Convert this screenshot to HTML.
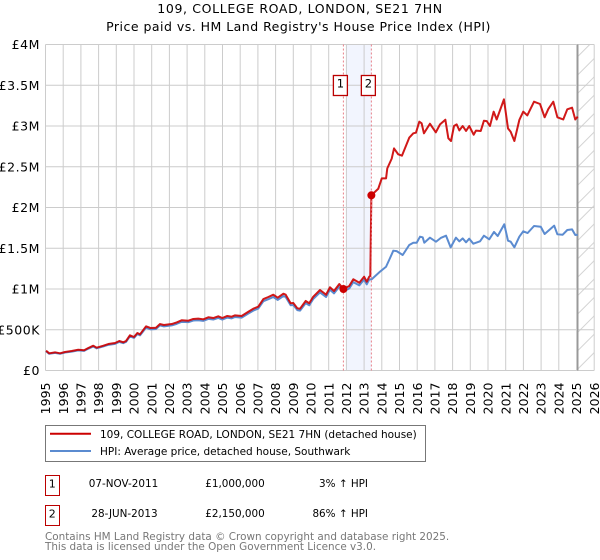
<!DOCTYPE html>
<html>
<head>
<meta charset="utf-8">
<style>
html,body{margin:0;padding:0;background:#fff}
svg{display:block}
text{font-family:"DejaVu Sans",sans-serif;fill:#000}
</style>
</head>
<body>
<svg id="chart" xmlns="http://www.w3.org/2000/svg" width="600" height="560" viewBox="0 0 600 560">
  <defs>
    <pattern id="hatch" patternUnits="userSpaceOnUse" width="13" height="13" patternTransform="rotate(45)">
      <line x1="6.5" y1="0" x2="6.5" y2="13" stroke="#d4d4d4" stroke-width="1"/>
    </pattern>
  </defs>
  <text x="300" y="13" font-size="12.5" letter-spacing="0.64" text-anchor="middle">109, COLLEGE ROAD, LONDON, SE21 7HN</text>
  <text x="298.5" y="31" font-size="12.5" letter-spacing="0.48" text-anchor="middle">Price paid vs. HM Land Registry's House Price Index (HPI)</text>
  <g id="bands"></g>
  <g id="grid"></g>
  <g id="lines"></g>
  <g id="annotations"></g>
  <g id="ticks"></g>

  <g>
    <rect x="45.5" y="425.5" width="380" height="36" fill="#fff" stroke="#777" stroke-width="1"/>
    <line x1="50" x2="91" y1="433.7" y2="433.7" stroke="#cc0000" stroke-width="2"/>
    <text x="100" y="438" font-size="10.5">109, COLLEGE ROAD, LONDON, SE21 7HN (detached house)</text>
    <line x1="50" x2="91" y1="451" y2="451" stroke="#5b8bd0" stroke-width="2"/>
    <text x="100" y="455" font-size="10.5">HPI: Average price, detached house, Southwark</text>
  </g>

  <g>
    <rect x="45.5" y="475.5" width="14" height="20" fill="#fff" stroke="#bb0000" stroke-width="1"/>
    <text x="52.3" y="487.3" font-size="11" text-anchor="middle">1</text>
    <text x="123.5" y="487" font-size="10.4" text-anchor="middle">07-NOV-2011</text>
    <text x="235" y="487" font-size="10.4" text-anchor="middle">£1,000,000</text>
    <text x="368" y="487" font-size="10.4" text-anchor="end">3% ↑ HPI</text>
    <rect x="45.5" y="505.5" width="14" height="20" fill="#fff" stroke="#bb0000" stroke-width="1"/>
    <text x="52.3" y="517.3" font-size="11" text-anchor="middle">2</text>
    <text x="124.5" y="517" font-size="10.4" text-anchor="middle">28-JUN-2013</text>
    <text x="235" y="517" font-size="10.4" text-anchor="middle">£2,150,000</text>
    <text x="368" y="517" font-size="10.4" text-anchor="end">86% ↑ HPI</text>
  </g>

  <text x="45" y="540" font-size="10.4" style="fill:#777">Contains HM Land Registry data © Crown copyright and database right 2025.</text>
  <text x="45" y="550" font-size="10.4" style="fill:#777">This data is licensed under the Open Government Licence v3.0.</text>
</svg>

<script>
var yearTicks = [1995,1996,1997,1998,1999,2000,2001,2002,2003,2004,2005,2006,2007,2008,2009,2010,2011,2012,2013,2014,2015,2016,2017,2018,2019,2020,2021,2022,2023,2024,2025,2026];
var priceTicks = [0,0.5,1,1.5,2,2.5,3,3.5,4];
var priceTickLabels = ['£0','£500K','£1M','£1.5M','£2M','£2.5M','£3M','£3.5M','£4M'];

var propertyDates = [
1995.03,1995.21,1995.54,1995.82,1996.10,1996.48,1996.85,1997.18,1997.42,1997.70,
1997.89,1998.27,1998.55,1998.93,1999.17,1999.40,1999.55,1999.77,2000.00,2000.19,
2000.34,2000.68,2000.94,2001.24,2001.47,2001.69,2002.13,2002.41,2002.69,2003.07,
2003.35,2003.63,2003.92,2004.20,2004.48,2004.76,2004.99,2005.27,2005.52,2005.71,
2006.08,2006.46,2006.74,2007.02,2007.31,2007.59,2007.87,2008.12,2008.44,2008.57,
2008.85,2009.00,2009.23,2009.38,2009.70,2009.90,2010.13,2010.51,2010.85,2011.07,
2011.30,2011.60,2011.83,2012.16,2012.39,2012.73,2013.00,2013.15,2013.29,2013.35,
2013.41,2013.80,2014.00,2014.24,2014.31,2014.56,2014.69,2014.93,2015.14,2015.55,
2015.78,2015.93,2016.12,2016.25,2016.38,2016.72,2017.05,2017.29,2017.59,2017.76,
2017.91,2018.08,2018.23,2018.38,2018.57,2018.76,2018.94,2019.19,2019.32,2019.59,
2019.77,2019.93,2020.11,2020.32,2020.49,2020.90,2021.13,2021.28,2021.49,2021.77,
2021.99,2022.22,2022.60,2022.94,2023.20,2023.41,2023.69,2023.92,2024.25,2024.48,
2024.75,2024.93,2025.07];
var propertyValues = [
.243,.211,.223,.211,.227,.239,.255,.248,.276,.304,
.28,.304,.325,.337,.362,.346,.362,.432,.411,.46,
.444,.542,.521,.525,.57,.558,.57,.59,.616,.611,
.632,.636,.628,.653,.644,.665,.644,.669,.66,.677,
.669,.721,.758,.783,.877,.902,.93,.893,.942,.93,
.825,.828,.763,.758,.853,.825,.906,.988,.93,1.021,
.975,1.061,1.0,1.037,1.119,1.077,1.151,1.09,1.151,1.16,
2.15,2.23,2.358,2.358,2.48,2.6,2.725,2.652,2.636,2.856,
2.91,2.918,3.053,3.033,2.91,3.028,2.922,3.02,3.077,2.849,
2.816,3.0,3.02,2.946,3.0,2.939,3.0,2.893,2.943,2.939,
3.065,3.06,3.0,3.176,3.08,3.327,2.97,2.93,2.816,3.074,
3.176,3.13,3.298,3.27,3.107,3.209,3.298,3.107,3.08,3.205,
3.225,3.08,3.114];

var hpiDates = [
1995.03,1995.21,1995.54,1995.82,1996.10,1996.48,1996.85,1997.18,1997.42,1997.70,
1997.89,1998.27,1998.55,1998.93,1999.17,1999.40,1999.55,1999.77,2000.00,2000.19,
2000.34,2000.68,2000.94,2001.24,2001.47,2001.69,2002.13,2002.41,2002.69,2003.07,
2003.35,2003.63,2003.92,2004.20,2004.48,2004.76,2004.99,2005.27,2005.52,2005.71,
2006.08,2006.46,2006.74,2007.02,2007.31,2007.59,2007.87,2008.12,2008.44,2008.57,
2008.85,2009.00,2009.23,2009.38,2009.70,2009.90,2010.13,2010.51,2010.85,2011.07,
2011.30,2011.60,2011.83,2012.16,2012.39,2012.73,2013.00,2013.15,2013.29,2013.43,
2013.90,2014.24,2014.46,2014.65,2014.84,2015.18,2015.55,2015.78,2015.97,2016.16,
2016.31,2016.40,2016.72,2017.06,2017.33,2017.63,2017.89,2018.19,2018.38,2018.57,
2018.76,2018.94,2019.17,2019.55,2019.77,2020.07,2020.34,2020.55,2020.92,2021.13,
2021.28,2021.49,2021.77,2021.99,2022.24,2022.60,2022.98,2023.20,2023.50,2023.74,
2023.92,2024.22,2024.48,2024.75,2024.93,2025.07];
var hpiValues = [
.235,.205,.216,.205,.22,.232,.247,.241,.268,.295,
.272,.295,.315,.327,.351,.336,.351,.419,.399,.446,
.431,.526,.505,.509,.553,.541,.553,.572,.597,.593,
.613,.617,.609,.633,.625,.645,.625,.649,.64,.657,
.649,.699,.735,.76,.851,.875,.902,.866,.914,.902,
.8,.803,.74,.735,.827,.8,.879,.958,.902,.99,
.946,1.029,.97,1.006,1.085,1.045,1.116,1.057,1.116,1.12,
1.213,1.273,1.377,1.47,1.465,1.417,1.54,1.568,1.568,1.642,
1.634,1.568,1.63,1.58,1.626,1.654,1.511,1.63,1.585,1.621,
1.573,1.617,1.556,1.585,1.654,1.61,1.7,1.65,1.794,1.593,
1.58,1.511,1.642,1.708,1.687,1.773,1.764,1.675,1.732,1.777,
1.671,1.666,1.724,1.732,1.663,1.666];

var saleDates = [2011.83,2013.41];
var saleValues = [1.0,2.15];
var saleLabels = ['1','2'];
var lastDataDate = 2025.07;

var SVGNS = 'http://www.w3.org/2000/svg';
function xScale(year){ return 45.5 + (year - 1995) * 17.7; }
function yScale(m){ return 370.5 - m * 81.5; }
function make(tag, attrs, parent){
  var el = document.createElementNS(SVGNS, tag);
  for (var k in attrs) el.setAttribute(k, attrs[k]);
  parent.appendChild(el);
  return el;
}
function pathFrom(dates, values){
  return dates.map(function(d,i){
    return (i ? 'L' : 'M') + xScale(d).toFixed(2) + ' ' + yScale(values[i]).toFixed(2);
  }).join(' ');
}
var gBands = document.getElementById('bands');
var gGrid = document.getElementById('grid');
var gLines = document.getElementById('lines');
var gAnn = document.getElementById('annotations');
var gTicks = document.getElementById('ticks');
var top_ = yScale(4), bottom_ = yScale(0), right_ = xScale(2026);

var band = make('rect', {x: xScale(2012), y: top_, width: xScale(saleDates[1]) - xScale(2012), height: bottom_ - top_, fill: '#f2f5fe'}, gBands);



var hatch = make('rect', {x: xScale(lastDataDate), y: top_, width: right_ - xScale(lastDataDate), height: bottom_ - top_, fill: 'url(#hatch)'}, gBands);



yearTicks.forEach(function(yr){
  var x = xScale(yr);
  var l = make('line', {x1: x, x2: x, y1: top_, y2: bottom_, stroke: '#ccc', 'stroke-width': 1}, gGrid);
  
  
  var t = make('text', {'font-size': 12.5, 'text-anchor': 'end', transform: 'translate(' + (x + 4.6) + ',382.5) rotate(-90)'}, gTicks);
  t.textContent = yr;
  
  
});
priceTicks.forEach(function(p,i){
  var y = yScale(p);
  var l = make('line', {x1: xScale(1995), x2: right_, y1: y, y2: y, stroke: '#ccc', 'stroke-width': 1}, gGrid);
  
  
  var t = make('text', {x: 40, y: y + 4.5, 'font-size': 12.5, 'letter-spacing': 0.55, 'text-anchor': 'end'}, gTicks);
  t.textContent = priceTickLabels[i];
  
  
});

var endLine = make('line', {x1: xScale(lastDataDate), x2: xScale(lastDataDate), y1: top_, y2: bottom_, stroke: '#999', 'stroke-width': 1.5}, gGrid);



var hpiPath = make('path', {d: pathFrom(hpiDates, hpiValues), fill: 'none', stroke: '#5b8bd0', 'stroke-width': 2, 'stroke-linejoin': 'round'}, gLines);



var propertyPath = make('path', {d: pathFrom(propertyDates, propertyValues), fill: 'none', stroke: '#cc0000', 'stroke-opacity': 0.9, 'stroke-width': 2, 'stroke-linejoin': 'round'}, gLines);



saleDates.forEach(function(d,i){
  var x = xScale(d);
  var dash = make('line', {x1: x, x2: x, y1: top_, y2: bottom_, stroke: '#e8808a', 'stroke-width': 1, 'stroke-dasharray': '2 2'}, gAnn);
  
  
  var dot = make('circle', {cx: x, cy: yScale(saleValues[i]), r: 4, fill: '#cc0000'}, gAnn);
  
  
  var box = make('rect', {x: x - 10, y: 75.5, width: 14, height: 20, fill: '#fff', stroke: '#bb0000', 'stroke-width': 1.3}, gAnn);
  
  
  var num = make('text', {x: x - 3, y: 87.3, 'font-size': 11.5, 'text-anchor': 'middle'}, gAnn);
  num.textContent = saleLabels[i];
  
  
});
</script>
</body>
</html>
